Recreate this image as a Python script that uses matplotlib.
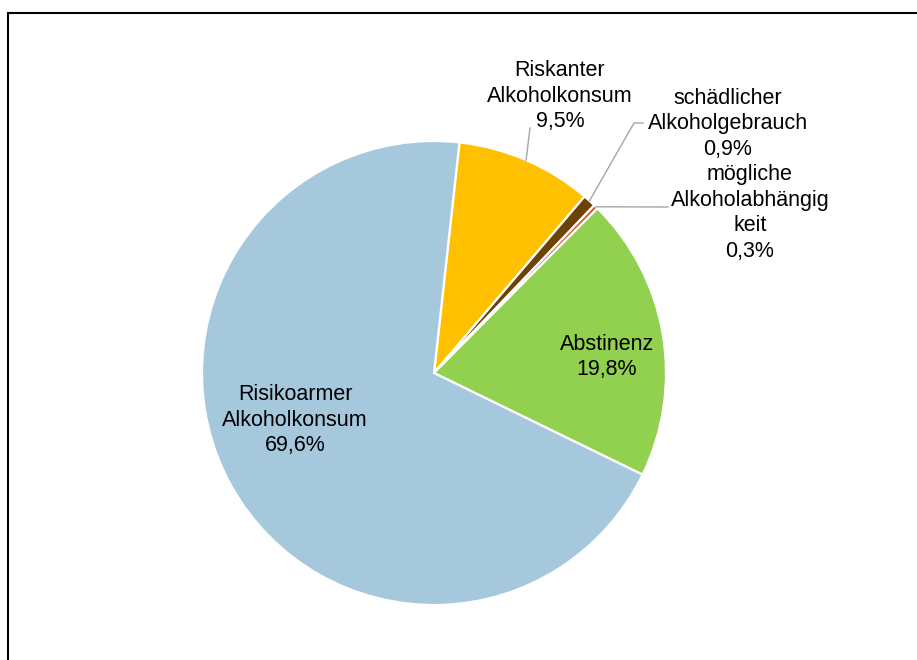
import numpy as np
import matplotlib
matplotlib.use("Agg")
import matplotlib.pyplot as plt
from matplotlib.patches import Rectangle

categories = ["Riskanter\nAlkoholkonsum", "schädlicher\nAlkoholgebrauch",
              "mögliche\nAlkoholabhängig\nkeit", "Abstinenz",
              "Risikoarmer\nAlkoholkonsum"]
values = [9.5, 0.9, 0.3, 19.8, 69.6]
pct_labels = ["9,5%", "0,9%", "0,3%", "19,8%", "69,6%"]
colors = ["#FFC000", "#6E4204", "#D0561C", "#92D050", "#A5C8DC"]

W, H = 917, 660
fig = plt.figure(figsize=(W / 100, H / 100), dpi=100)
ax = fig.add_axes([0, 0, 1, 1])
ax.set_xlim(0, W)
ax.set_ylim(0, H)
ax.set_aspect("equal")
ax.axis("off")

cx, cy, R = 434, H - 373, 232
start = 90 - 6.3
wedges, _ = ax.pie(values, colors=colors, startangle=start, counterclock=False,
                   center=(cx, cy), radius=R, frame=True,
                   wedgeprops=dict(edgecolor="white", linewidth=1.6))
ax.set_xlim(0, W)
ax.set_ylim(0, H)
ax.axis("off")

# border
fig.patches.append(Rectangle((7.5 / W, -0.1), 1.2, (H - 12.5) / H + 0.1,
                             transform=fig.transFigure, fill=False,
                             edgecolor="black", linewidth=1.5))

font = dict(family=["Liberation Sans", "DejaVu Sans"], fontsize=15.5,
            color="black", ha="center", va="center", linespacing=1.29)

def edge_point(w):
    th = np.deg2rad((w.theta1 + w.theta2) / 2)
    return cx + R * np.cos(th), cy + R * np.sin(th)

# inside labels
ax.text(607, H - 357, categories[3] + "\n" + pct_labels[3], **font)
ax.text(295, H - 420, categories[4] + "\n" + pct_labels[4], **font)

# outside labels
ax.text(560, H - 96, categories[0] + "\n" + pct_labels[0], **font)
ax.text(728, H - 124, categories[1] + "\n" + pct_labels[1], **font)
ax.text(750, H - 213, categories[2] + "\n" + pct_labels[2], **font)

lc = dict(color="#A6A6A6", linewidth=1.0)
x0, y0 = edge_point(wedges[0])
ax.plot([x0, 530], [y0, H - 128], **lc)
x1, y1 = edge_point(wedges[1])
ax.plot([x1, 634, 643], [y1, H - 123, H - 123], **lc)
x2, y2 = edge_point(wedges[2])
ax.plot([x2, 668], [y2, H - 207], **lc)

fig.savefig("out.png", dpi=100, facecolor="white")
